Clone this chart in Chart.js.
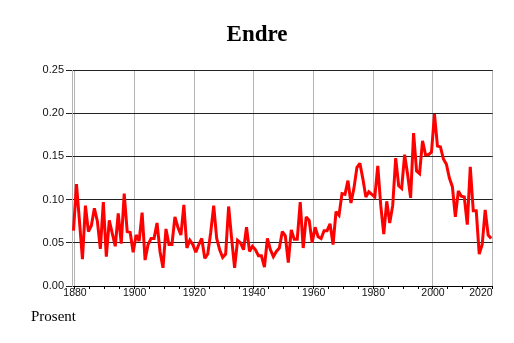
<!DOCTYPE html>
<html>
<head>
<meta charset="utf-8">
<title>Endre</title>
<script src="https://cdn.jsdelivr.net/npm/chart.js@4"></script>
<style>
  html, body { margin: 0; padding: 0; background: #fff; }
  canvas { display: block; }
</style>
</head>
<body>
<canvas id="chart" width="514" height="343"></canvas>
<script>
// Årlig endring, 1879-2019
const firstYear = 1879;
const endre = [
    0.064,
    0.118, 0.075, 0.031, 0.093, 0.063, 0.070, 0.090, 0.075, 0.043, 0.097, // 1880-
    0.034, 0.076, 0.061, 0.046, 0.084, 0.049, 0.107, 0.063, 0.062, 0.039, // 1890-
    0.059, 0.052, 0.085, 0.030, 0.048, 0.055, 0.055, 0.073, 0.040, 0.021, // 1900-
    0.066, 0.048, 0.048, 0.080, 0.068, 0.059, 0.094, 0.044, 0.053, 0.048, // 1910-
    0.039, 0.048, 0.055, 0.032, 0.037, 0.062, 0.093, 0.055, 0.042, 0.033, // 1920-
    0.037, 0.092, 0.055, 0.021, 0.053, 0.050, 0.042, 0.068, 0.040, 0.046, // 1930-
    0.042, 0.035, 0.035, 0.022, 0.055, 0.042, 0.034, 0.040, 0.044, 0.063, // 1940-
    0.058, 0.027, 0.065, 0.054, 0.054, 0.097, 0.044, 0.080, 0.076, 0.050, // 1950-
    0.068, 0.057, 0.055, 0.064, 0.064, 0.072, 0.048, 0.086, 0.082, 0.107, // 1960-
    0.106, 0.122, 0.096, 0.113, 0.137, 0.142, 0.124, 0.103, 0.109, 0.106, // 1970-
    0.103, 0.139, 0.093, 0.060, 0.098, 0.073, 0.093, 0.148, 0.116, 0.113, // 1980-
    0.152, 0.129, 0.102, 0.177, 0.133, 0.130, 0.168, 0.152, 0.152, 0.155, // 1990-
    0.199, 0.162, 0.161, 0.147, 0.141, 0.125, 0.115, 0.080, 0.110, 0.104, // 2000-
    0.103, 0.071, 0.138, 0.087, 0.087, 0.037, 0.048, 0.088, 0.059, 0.055  // 2010-
];
const years = endre.map((v, i) => firstYear + i);

// x axis: minor ticks every 5 years, labels every 20
const xTickYears = [];
for (let y = 1880; y <= 2020; y += 5) xTickYears.push(y);
const yTickValues = [0, 0.05, 0.10, 0.15, 0.20, 0.25];

// "Prosent" under the axis, left side
const footLabel = {
    id: 'footLabel',
    beforeDatasetsDraw(chart) {
        // keep the spikes from growing long miter tips
        chart.ctx.miterLimit = 2.5;
    },
    afterDraw(chart) {
        const ctx = chart.ctx;
        ctx.save();
        ctx.font = '15px "Liberation Serif", "Times New Roman", serif';
        ctx.fillStyle = '#000';
        ctx.textBaseline = 'middle';
        ctx.fillText('Prosent', 31, 317);
        ctx.restore();
    }
};

new Chart(document.getElementById('chart'), {
    type: 'line',
    data: {
        datasets: [{
            label: 'Endre',
            // each value sits in the middle of its year
            data: years.map((y, i) => ({ x: y + 0.5, y: endre[i] })),
            borderColor: '#ff0000',
            borderWidth: 3,
            pointRadius: 0,
            tension: 0,
            fill: false
        }]
    },
    options: {
        responsive: false,
        animation: false,
        devicePixelRatio: 1,
        layout: { padding: { left: 21, right: 21, top: 0, bottom: 0 } },
        plugins: {
            legend: { display: false },
            tooltip: { enabled: false },
            title: {
                display: true,
                text: 'Endre',
                color: '#000',
                font: { family: '"Liberation Serif", "Times New Roman", serif', size: 23, weight: 'bold' },
                padding: { top: 21, bottom: 21.4 }
            }
        },
        scales: {
            x: {
                type: 'linear',
                min: 1879,
                max: 2020,
                afterFit: s => { s.height = 57; },
                afterBuildTicks: s => { s.ticks = xTickYears.map(v => ({ value: v })); },
                ticks: {
                    autoSkip: false,
                    maxRotation: 0,
                    padding: -2,
                    color: '#111',
                    font: { family: '"Liberation Sans", Arial, sans-serif', size: 10.5 },
                    // last label kept inside the plot edge, as in the original
                    callback: v => (v === 2020 ? '2020\u2007\u2007\u2007\u2007' : (v % 20 === 0 ? String(v) : ''))
                },
                grid: {
                    color: c => (c.tick && c.tick.value % 20 === 0 ? '#b4b4b4' : 'rgba(0,0,0,0)'),
                    tickColor: '#000',
                    tickLength: 3
                },
                border: { color: '#000', width: 1 }
            },
            y: {
                min: 0,
                max: 0.25,
                afterFit: s => { s.width = 51; },
                afterBuildTicks: s => { s.ticks = yTickValues.map(v => ({ value: v })); },
                ticks: {
                    padding: 2,
                    color: '#111',
                    font: { family: '"Liberation Sans", Arial, sans-serif', size: 11 },
                    callback: v => v.toFixed(2)
                },
                grid: {
                    color: '#222',
                    tickColor: '#222',
                    tickLength: 6
                },
                border: { color: '#b4b4b4', width: 1 }
            }
        }
    },
    plugins: [footLabel]
});
</script>
</body>
</html>
